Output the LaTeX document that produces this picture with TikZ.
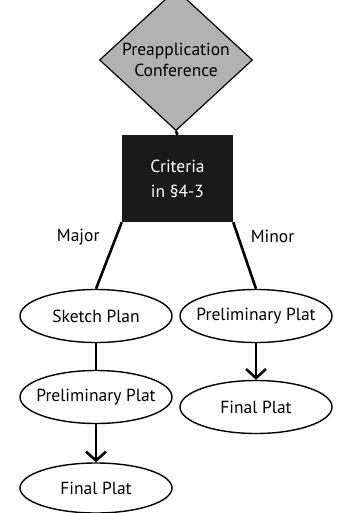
\documentclass[tikz,border=0pt]{standalone}
\usepackage{fontspec}
\setmainfont{PT Sans}
\usetikzlibrary{shapes.geometric, arrows.meta, positioning}

\tikzset{
  label font/.style={font=\fontsize{17.5}{20}\selectfont, text=black},
  stage/.style={ellipse, draw, line width=1.4pt, minimum width=152pt, minimum height=53pt,
    inner xsep=-12pt, inner ysep=0pt, label font},
  flow/.style={line width=2.6pt},
  flowarrow/.style={flow, -{Straight Barb[length=9pt, width=20pt, line width=2.6pt]}}
}

\begin{document}
\begin{tikzpicture}[x=1pt, y=-1pt]
    \useasboundingbox (0,0) rectangle (339,513);

    % Start
    \node[diamond, draw, fill=black!30, line width=1.2pt, minimum width=153pt, minimum height=103pt,
      inner sep=0pt, align=center, label font, font=\fontsize{17.5}{21}\selectfont] (conf) at (176,60)
      {Preapplication\\Conference};
    \node[fill=black!90, text=white, minimum width=111pt, minimum height=87pt, align=center,
      font=\fontsize{17.5}{25}\selectfont] (crit) at (177.5,178.5) {Criteria\\in \S4-3};
    \draw[flow] (conf.south) -- (crit.north);

    % Major
    \node[stage] (sketch) at (96,316) {Sketch Plan};
    \node[stage] (prelimL) at (96,397) {Preliminary Plat};
    \node[stage, minimum height=50pt] (finalL) at (96,488) {Final Plat};
    \draw[flow] (crit.south west) -- (sketch.north) node[pos=0.22, left=12pt, label font] {Major};
    \draw[flow] (sketch.south) -- (prelimL.north);
    \draw[flowarrow] (prelimL.south) -- (finalL.north);

    % Minor
    \node[stage] (prelimR) at (256,316) {Preliminary Plat};
    \node[stage] (finalR) at (256,407) {Final Plat};
    \draw[flow] (crit.south east) -- (prelimR.north) node[pos=0.22, right=8pt, label font] {Minor};
    \draw[flowarrow] (prelimR.south) -- (finalR.north);
\end{tikzpicture}
\end{document}
